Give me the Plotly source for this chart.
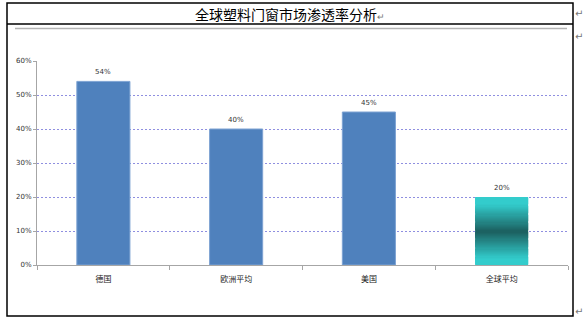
import plotly.graph_objects as go
import numpy as np

categories = ["德国", "欧洲平均", "美国", "全球平均"]
values = [54, 40, 45, 20]
labels = ["54%", "40%", "45%", "20%"]
title_text = "全球塑料门窗市场渗透率分析"
y_ticks = [0, 10, 20, 30, 40, 50, 60]
y_ticklabels = ["0%", "10%", "20%", "30%", "40%", "50%", "60%"]

W, H = 586, 320
L, R, T, B = 37, 568, 61, 265

def px(x):
    return (x - L) / (R - L)

def py(y):
    return (B - y) / (B - T)

fig = go.Figure()

# solid blue bars (first three)
fig.add_trace(go.Bar(
    x=categories[:3], y=values[:3], width=0.4,
    marker=dict(color="#4f81bd", line=dict(color="#7ea3d3", width=1)),
    hoverinfo="skip",
))

# gradient bar (last), drawn as stacked slices of its value
N = 60
top = np.array([0x33, 0xcc, 0xcc])
mid = np.array([0x1c, 0x60, 0x60])
v = values[3]
for i in range(N):
    t = (i + 0.5) / N
    d = abs(t - 0.5) / 0.5  # 0 at middle, 1 at ends
    f = min(1.0, d / 0.8)
    c = mid + (top - mid) * f
    col = "rgb(%d,%d,%d)" % tuple(c.astype(int))
    fig.add_trace(go.Bar(
        x=[categories[3]], y=[v / N], base=[v * i / N], width=0.4,
        marker=dict(color=col, line=dict(width=0)),
        hoverinfo="skip",
    ))

shapes = [
    # outer border
    dict(type="rect", xref="paper", yref="paper", x0=px(7), x1=px(573), y0=py(3), y1=py(316),
         line=dict(color="black", width=1.5)),
    # title separator
    dict(type="line", xref="paper", yref="paper", x0=px(7), x1=px(573), y0=py(24), y1=py(24),
         line=dict(color="black", width=1.5)),
    # gray header line
    dict(type="line", xref="paper", yref="paper", x0=px(15), x1=px(567), y0=py(28.5), y1=py(28.5),
         line=dict(color="#b4b4b4", width=1.5)),
]

annotations = [
    dict(text=title_text + "<span style='font-size:9px;color:#777'>↵</span>", xref="paper", yref="paper",
         x=px(290), y=py(14), showarrow=False,
         font=dict(size=14, color="black", family="Noto Sans CJK SC"), xanchor="center", yanchor="middle"),
]
for yy in [14, 37, 311]:
    annotations.append(dict(text="↵", xref="paper", yref="paper", x=px(579), y=py(yy),
                            showarrow=False, font=dict(size=10, color="#777777", family="DejaVu Sans"),
                            xanchor="center", yanchor="middle"))
# data labels
for c, val, lab in zip(categories, values, labels):
    annotations.append(dict(text=lab, x=c, y=val, xref="x", yref="y", showarrow=False,
                            yanchor="bottom", yshift=3,
                            font=dict(size=7, color="#333333", family="DejaVu Sans")))

fig.update_layout(
    width=W, height=H,
    margin=dict(l=L, r=W - R, t=T, b=H - B, pad=0),
    paper_bgcolor="white", plot_bgcolor="white",
    showlegend=False, barmode="overlay",
    shapes=shapes, annotations=annotations,
    xaxis=dict(
        showline=True, linecolor="#a6a6a6", linewidth=1,
        ticks="outside", ticklen=4, tickcolor="#a6a6a6", tickson="boundaries",
        showgrid=False, ticklabelstandoff=6,
        tickfont=dict(size=8, color="#222222", family="Noto Sans CJK SC"),
        range=[-0.5, 3.5],
    ),
    yaxis=dict(
        range=[0, 60], tickvals=y_ticks, ticktext=y_ticklabels,
        showline=True, linecolor="#a6a6a6", linewidth=1,
        ticks="outside", ticklen=3, tickcolor="#a6a6a6",
        showgrid=True, gridcolor="#8f8fe0", griddash="2px,2px", gridwidth=1,
        zeroline=False,
        tickfont=dict(size=7, color="#333333", family="DejaVu Sans"),
    ),
)

fig.write_html("out.html")
